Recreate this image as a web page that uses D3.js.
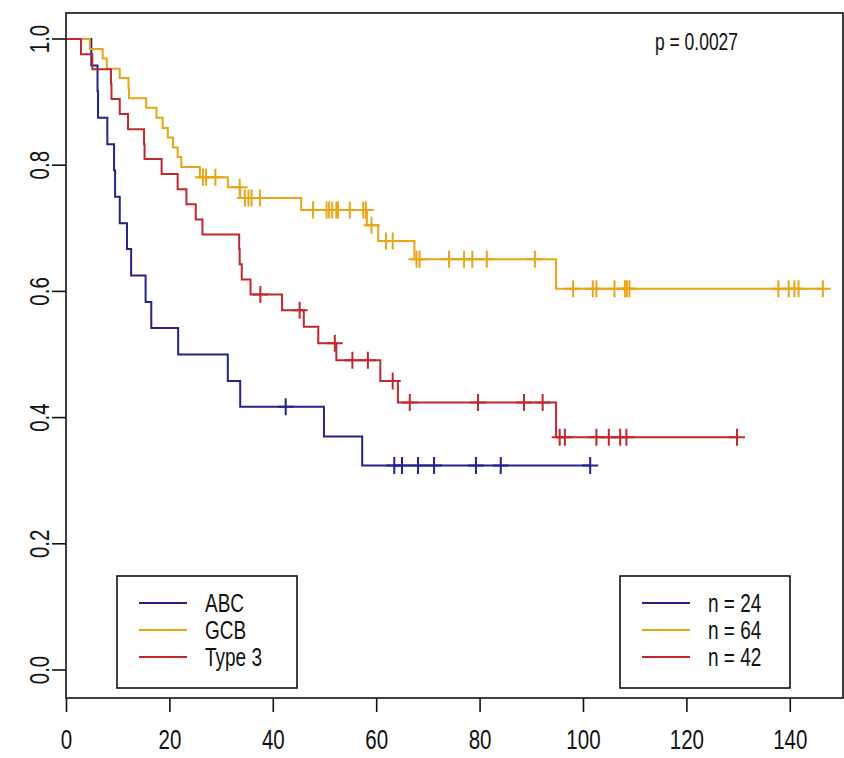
<!DOCTYPE html>
<html>
<head>
<meta charset="utf-8">
<script src="https://cdn.jsdelivr.net/npm/d3@7"></script>
<style>
  body { margin: 0; background: #fff; }
  text { font-family: "Liberation Sans", Arial, sans-serif; fill: #111; }
</style>
</head>
<body>
<div id="chart"></div>
<script>
/* data: step times (months) and survival after each step */
var abcTime = [0, 4.8, 6.0, 6.1, 7.9, 9.2, 9.4, 10.3, 11.7, 12.5, 15.3, 16.4, 21.6, 31.2, 33.6, 49.8, 57.2];
var abcSurv = [1, .958, .917, .875, .833, .792, .750, .708, .667, .625, .583, .542, .500, .458, .417, .370, .324];
var abcCensor = [42.4, 63.4, 64.9, 68.0, 71.1, 79.2, 84.0, 101.3];

var gcbTime = [0, 4.5, 7.0, 7.8, 10.3, 12.0, 12.1, 15.4, 17.4, 18.6, 19.6, 20.6, 21.5, 22.2, 25.8, 31.2, 33.6, 45.4, 58.1, 60.3, 67.3, 94.7];
var gcbSurv = [1, .984, .969, .953, .938, .922, .906, .891, .875, .859, .844, .828, .813, .797, .781, .765, .748, .729, .705, .680, .651, .604];
var gcbCensor = [26.4, 27.0, 28.8, 33.5, 34.5, 35.2, 35.8, 37.4, 47.7, 50.3, 50.8, 51.4, 52.2, 52.5, 54.8, 57.4, 57.9,
  59.0, 61.8, 63.1, 67.7, 68.3, 74.0, 76.9, 78.5, 81.3, 90.6, 98.0, 101.8, 102.5, 106.0, 108.0, 108.4, 108.9,
  137.7, 139.7, 140.8, 141.6, 146.3];

var t3Time = [0, 2.8, 5.0, 8.6, 8.7, 10.3, 11.9, 15.0, 15.1, 18.4, 21.5, 23.2, 25.0, 26.3, 33.4, 33.5, 33.9, 35.6, 41.7, 45.9, 48.7, 52.2, 60.7, 64.1, 94.7];
var t3Surv = [1, .976, .952, .929, .905, .881, .857, .833, .810, .786, .762, .738, .714, .690, .667, .643, .619, .595, .570, .544, .518, .491, .458, .424, .369];
var t3Censor = [37.5, 45.1, 51.9, 55.3, 58.3, 63.1, 66.4, 79.6, 88.5, 92.1, 95.4, 96.4, 102.5, 104.9, 107.1, 108.3, 129.7];

var groupNames = ["ABC", "GCB", "Type 3"];
var groupN = ["n = 24", "n = 64", "n = 42"];
var groupColors = ["#23238a", "#e8a516", "#c0282e"];
var xTicks = [0, 20, 40, 60, 80, 100, 120, 140];
var yTicks = [0, 0.2, 0.4, 0.6, 0.8, 1.0];
var pText = "p = 0.0027";

(function() {
  var width = 844, height = 758;
  var mLeft = 66, mRight = 843, mTop = 13, mBottom = 698;
  var squeeze = 0.76;

  var svg = d3.select("#chart").append("svg")
    .attr("width", width).attr("height", height);

  var x = d3.scaleLinear().domain([0, 150.2]).range([mLeft + 0.5, mRight]);
  var y = d3.scaleLinear().domain([-0.0444, 1.0412]).range([mBottom, mTop]);

  var groups = [
    {time: abcTime, surv: abcSurv, censor: abcCensor},
    {time: gcbTime, surv: gcbSurv, censor: gcbCensor},
    {time: t3Time, surv: t3Surv, censor: t3Censor}
  ];

  function levelAt(g, t) {
    var i = d3.bisectRight(g.time, t) - 1;
    return g.surv[Math.max(i, 0)];
  }

  var line = d3.line()
    .x(function(d) { return x(d[0]); })
    .y(function(d) { return y(d[1]); })
    .curve(d3.curveStepAfter);

  var curves = svg.append("g").attr("class", "curves");

  groups.forEach(function(g, k) {
    var pts = g.time.map(function(t, i) { return [t, g.surv[i]]; });
    var tEnd = d3.max(g.censor.concat(g.time));
    pts.push([tEnd, levelAt(g, tEnd)]);

    curves.append("path")
      .attr("d", line(pts))
      .attr("fill", "none")
      .attr("stroke", groupColors[k])
      .attr("stroke-width", 2);

    // censor marks drawn as "+"
    curves.append("g").selectAll("path")
      .data(g.censor)
      .enter().append("path")
      .attr("d", function(t) {
        var cx = x(t), cy = y(levelAt(g, t));
        return "M" + (cx - 8) + "," + cy + "H" + (cx + 8) + "M" + cx + "," + (cy - 8.5) + "V" + (cy + 8.5);
      })
      .attr("stroke", groupColors[k])
      .attr("stroke-width", 2);
  });

  /* frame */
  svg.append("rect")
    .attr("x", mLeft).attr("y", mTop)
    .attr("width", mRight - mLeft).attr("height", mBottom - mTop)
    .attr("fill", "none").attr("stroke", "#111").attr("stroke-width", 1.6);

  /* x axis */
  var xa = svg.append("g").attr("class", "x-axis");
  xa.selectAll("line").data(xTicks).enter().append("line")
    .attr("x1", function(d) { return x(d); }).attr("x2", function(d) { return x(d); })
    .attr("y1", mBottom).attr("y2", mBottom + 14)
    .attr("stroke", "#111").attr("stroke-width", 1.6);
  xa.selectAll("text").data(xTicks).enter().append("text")
    .attr("transform", function(d) { return "translate(" + x(d) + "," + 749 + ") scale(" + squeeze + ",1)"; })
    .attr("text-anchor", "middle")
    .style("font-size", "27px")
    .text(function(d) { return d; });

  /* y axis */
  var ya = svg.append("g").attr("class", "y-axis");
  ya.selectAll("line").data(yTicks).enter().append("line")
    .attr("x1", mLeft).attr("x2", mLeft - 14)
    .attr("y1", function(d) { return y(d); }).attr("y2", function(d) { return y(d); })
    .attr("stroke", "#111").attr("stroke-width", 1.6);
  ya.selectAll("text").data(yTicks).enter().append("text")
    .attr("transform", function(d) { return "translate(" + 49 + "," + y(d) + ") rotate(-90) scale(" + squeeze + ",1)"; })
    .attr("text-anchor", "middle")
    .style("font-size", "27px")
    .text(function(d) { return d3.format(".1f")(d); });

  /* p value */
  svg.append("text")
    .attr("transform", "translate(655,50) scale(" + squeeze + ",1)")
    .style("font-size", "23px")
    .text(pText);

  /* legends */
  function legend(x0, x1, labels) {
    var lg = svg.append("g");
    lg.append("rect")
      .attr("x", x0).attr("y", 576).attr("width", x1 - x0).attr("height", 112)
      .attr("fill", "#fff").attr("stroke", "#111").attr("stroke-width", 1.6);
    labels.forEach(function(lab, i) {
      var yy = 603 + i * 27;
      lg.append("line")
        .attr("x1", x0 + 22).attr("x2", x0 + 70)
        .attr("y1", yy).attr("y2", yy)
        .attr("stroke", groupColors[i]).attr("stroke-width", 2);
      lg.append("text")
        .attr("transform", "translate(" + (x0 + 88) + "," + (yy + 9) + ") scale(" + squeeze + ",1)")
        .style("font-size", "25px")
        .text(lab);
    });
  }
  legend(117, 297, groupNames);
  legend(620, 790, groupN);
})();
</script>
</body>
</html>
